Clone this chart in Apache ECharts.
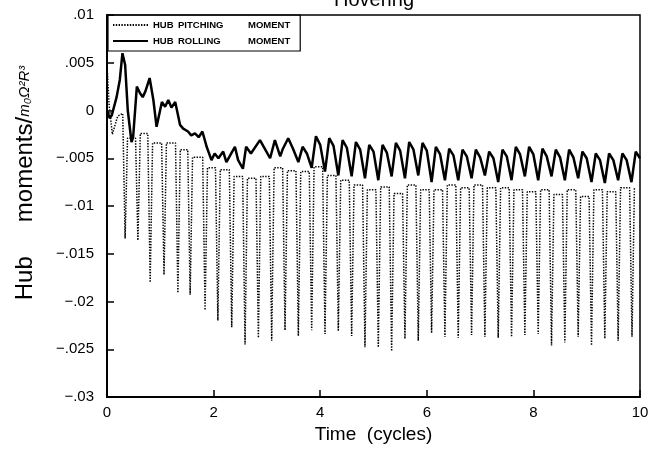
<!DOCTYPE html>
<html>
<head>
<meta charset="utf-8">
<script src="https://cdn.jsdelivr.net/npm/echarts@6/dist/echarts.min.js"></script>
<style>html,body{margin:0;padding:0;background:#fff}#c{width:666px;height:456px}</style>
</head>
<body>
<div id="c"></div>
<script>
// ---- data ----
const titleText = 'Hovering';
const xTickLabels = ['0', '2', '4', '6', '8', '10'];
const yTickLabels = ['.01', '.005', '0', '\u2212.005', '\u2212.01', '\u2212.015', '\u2212.02', '\u2212.025', '\u2212.03'];
const seriesNames = ['HUB PITCHING MOMENT', 'HUB ROLLING MOMENT'];

// Hub pitching moment: start of record
const pitchEarlyT = [0.00, 0.04, 0.10, 0.20];
const pitchEarlyV = [0.0048, 0.0006, -0.0025, -0.0006];
// Hub pitching moment: 4/rev dips (time, bottom value, value at top of each stroke)
const pitchDipT = [0.34, 0.58, 0.81, 1.07, 1.33, 1.56, 1.84, 2.08, 2.34, 2.59, 2.84, 3.09, 3.34, 3.59, 3.84, 4.09, 4.34, 4.59, 4.84, 5.09,
  5.34, 5.59, 5.84, 6.09, 6.34, 6.59, 6.84, 7.09, 7.34, 7.59, 7.84, 8.09, 8.34, 8.59, 8.84, 9.09, 9.34, 9.59, 9.85];
const pitchDipV = [-0.0134, -0.0136, -0.0180, -0.0172, -0.0191, -0.0193, -0.0209, -0.0220, -0.0227, -0.0245, -0.0238, -0.0241, -0.0230,
  -0.0236, -0.0230, -0.0234, -0.0231, -0.0236, -0.0248, -0.0248, -0.0252, -0.0239, -0.0241, -0.0233, -0.0237, -0.0238, -0.0235, -0.0237,
  -0.0238, -0.0237, -0.0235, -0.0234, -0.0246, -0.0243, -0.0237, -0.0246, -0.0239, -0.0241, -0.0237];
const pitchTopV = [-0.0003, -0.0029, -0.0024, -0.0034, -0.0034, -0.0041, -0.0049, -0.0060, -0.0062, -0.0069, -0.0071, -0.0069, -0.0060,
  -0.0063, -0.0064, -0.0059, -0.0068, -0.0073, -0.0078, -0.0083, -0.0080, -0.0087, -0.0078, -0.0083, -0.0083, -0.0078, -0.0081, -0.0078,
  -0.0081, -0.0081, -0.0083, -0.0085, -0.0083, -0.0088, -0.0083, -0.0090, -0.0083, -0.0085, -0.0081];
const pitchStrokeHalf = 0.045; // half width of each dip stroke, cycles

// Hub rolling moment: start of record
const rollEarlyT = [0.00, 0.05, 0.09, 0.18, 0.24, 0.29, 0.34, 0.39, 0.46, 0.49, 0.56, 0.62, 0.67, 0.72, 0.80, 0.87, 0.93, 1.03, 1.09, 1.15,
  1.21, 1.28, 1.37, 1.43, 1.52, 1.58, 1.65, 1.72, 1.79, 1.87, 1.96, 2.02, 2.09, 2.18, 2.24, 2.30, 2.40, 2.46, 2.55, 2.61, 2.70, 2.87,
  2.97, 3.06, 3.15, 3.25, 3.30, 3.40, 3.49];
const rollEarlyV = [0.0000, -0.0008, -0.0005, 0.0014, 0.0032, 0.0060, 0.0048, 0.0000, -0.0033, -0.0028, 0.0025, 0.0018, 0.0014, 0.0020,
  0.0034, 0.0011, -0.0017, 0.0009, 0.0004, 0.0011, 0.0003, 0.0009, -0.0015, -0.0019, -0.0022, -0.0026, -0.0024, -0.0028, -0.0022, -0.0038,
  -0.0052, -0.0045, -0.0050, -0.0043, -0.0054, -0.0048, -0.0038, -0.0052, -0.0061, -0.0038, -0.0045, -0.0031, -0.0041, -0.0050, -0.0031,
  -0.0048, -0.0040, -0.0029, -0.0040];
// Hub rolling moment: 4/rev cycles (trough time, trough, peak, shoulder)
const rollTroughT = [3.59, 3.84, 4.09, 4.34, 4.59, 4.84, 5.09, 5.34, 5.59, 5.84, 6.09, 6.34, 6.59, 6.84, 7.09, 7.34, 7.59, 7.84, 8.09,
  8.34, 8.59, 8.84, 9.09, 9.34, 9.59, 9.84];
const rollTroughV = [-0.0054, -0.0060, -0.0064, -0.0068, -0.0069, -0.0071, -0.0073, -0.0069, -0.0071, -0.0068, -0.0075, -0.0073, -0.0073,
  -0.0071, -0.0068, -0.0075, -0.0073, -0.0069, -0.0073, -0.0069, -0.0073, -0.0071, -0.0075, -0.0076, -0.0073, -0.0075];
const rollPeakV = [-0.0038, -0.0027, -0.0029, -0.0031, -0.0033, -0.0036, -0.0036, -0.0034, -0.0033, -0.0034, -0.0038, -0.0040, -0.0041,
  -0.0041, -0.0043, -0.0041, -0.0038, -0.0038, -0.0040, -0.0041, -0.0041, -0.0043, -0.0045, -0.0045, -0.0045, -0.0043];
const rollShoulderV = [-0.0045, -0.0036, -0.0037, -0.0039, -0.0041, -0.0043, -0.0044, -0.0042, -0.0041, -0.0042, -0.0046, -0.0047, -0.0048,
  -0.0049, -0.0050, -0.0048, -0.0046, -0.0046, -0.0048, -0.0049, -0.0049, -0.0050, -0.0052, -0.0052, -0.0052, -0.0050];
const rollPeakLag = 0.08, rollShoulderLag = 0.16;

// ---- build series ----
const pitchData = [];
pitchEarlyT.forEach((t, i) => pitchData.push([t, pitchEarlyV[i]]));
pitchDipT.forEach((t, i) => {
  pitchData.push([t - pitchStrokeHalf, pitchTopV[i]]);
  pitchData.push([t, pitchDipV[i]]);
  pitchData.push([t + pitchStrokeHalf, pitchTopV[Math.min(i + 1, pitchTopV.length - 1)]]);
});
const rollData = [];
rollEarlyT.forEach((t, i) => rollData.push([t, rollEarlyV[i]]));
rollTroughT.forEach((t, i) => {
  rollData.push([t, rollTroughV[i]]);
  rollData.push([t + rollPeakLag, rollPeakV[i]]);
  rollData.push([t + rollShoulderLag, rollShoulderV[i]]);
});

const chart = echarts.init(document.getElementById('c'), null, { renderer: 'canvas' });
const FONT = 'Liberation Sans';
const legendRich = { fontSize: 9.5, fontWeight: 'bold', fontFamily: FONT, color: '#000' };
chart.setOption({
  animation: false,
  backgroundColor: '#fff',
  grid: { left: 107, right: 26, top: 15, bottom: 59, show: true, borderColor: '#000', borderWidth: 1.5, backgroundColor: 'transparent' },
  legend: {
    orient: 'vertical', left: 108, top: 15,
    data: seriesNames,
    borderColor: '#000', borderWidth: 1.2, borderRadius: 0,
    padding: [5, 10, 5, 4], itemGap: 6, itemWidth: 35, itemHeight: 10,
    itemStyle: { opacity: 0 },
    formatter: name => { const w = name.split(' '); return '{a|' + w[0] + '}{b|' + w[1] + '}{c|' + w[2] + '}'; },
    textStyle: {
      color: '#000', fontFamily: FONT, fontSize: 9.5, fontWeight: 'bold',
      rich: { a: Object.assign({ width: 25 }, legendRich), b: Object.assign({ width: 70 }, legendRich), c: legendRich }
    }
  },
  xAxis: {
    type: 'value', min: 0, max: 10, interval: 2,
    name: 'Time  (cycles)', nameLocation: 'middle', nameGap: 27,
    nameTextStyle: { fontFamily: FONT, fontSize: 19, color: '#000' },
    axisLine: { onZero: false, lineStyle: { color: '#000', width: 2 } },
    axisTick: { inside: true, length: 7, lineStyle: { color: '#000', width: 1.5 } },
    axisLabel: { margin: 8, fontFamily: FONT, fontSize: 15, color: '#000', formatter: v => xTickLabels[Math.round(v / 2)] },
    splitLine: { show: false }
  },
  yAxis: {
    type: 'value', min: -0.03, max: 0.01, interval: 0.005,
    axisLine: { show: true, onZero: false, lineStyle: { color: '#000', width: 2 } },
    axisTick: { show: true, inside: true, length: 7, lineStyle: { color: '#000', width: 1.5 } },
    axisLabel: { margin: 13, fontFamily: FONT, fontSize: 15, color: '#000', formatter: v => yTickLabels[Math.round((0.01 - v) / 0.005)] },
    splitLine: { show: false }
  },
  graphic: [
    { type: 'text', x: 374, y: 0, style: { text: titleText, font: '20px "Liberation Sans"', fill: '#000', align: 'center', verticalAlign: 'middle' } },
    { type: 'text', x: 25, y: 183, rotation: Math.PI / 2,
      style: { text: '{big|Hub}{gap| }{big|moments/}{small|m\u2080\u03A9\u00B2R\u00B3}', align: 'center', verticalAlign: 'middle', fill: '#000',
        rich: { big: { fontFamily: FONT, fontSize: 24, fill: '#000' }, gap: { width: 34, fontSize: 24 }, small: { fontFamily: FONT, fontSize: 15, fontStyle: 'italic', fill: '#000' } } } }
  ],
  series: [
    { name: seriesNames[0], type: 'line', data: pitchData, symbol: 'none', lineStyle: { color: '#000', width: 1.5, type: [1.4, 1.4] }, itemStyle: { color: '#000' }, z: 2 },
    { name: seriesNames[1], type: 'line', data: rollData, symbol: 'none', lineStyle: { color: '#000', width: 2.5, type: 'solid' }, itemStyle: { color: '#000' }, z: 3 }
  ]
});
</script>
</body>
</html>
